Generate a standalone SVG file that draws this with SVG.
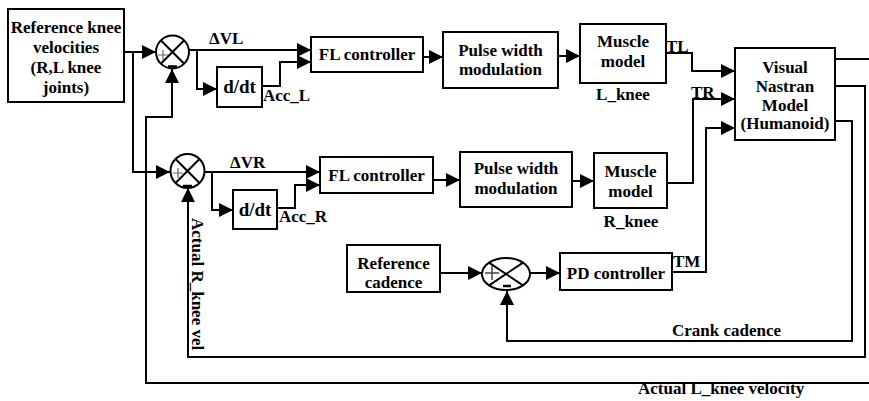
<svg xmlns="http://www.w3.org/2000/svg" width="869" height="401" viewBox="0 0 869 401">
  <style>
    .box { fill: #fff; stroke: #000; stroke-width: 2; }
    .sum { fill: #fff; stroke: #000; stroke-width: 2; }
    .cross { stroke: #000; stroke-width: 2; fill: none; }
    .plus { stroke: #666; stroke-width: 1.2; fill: none; }
    .minus { stroke: #000; stroke-width: 2.5; fill: none; }
    .wire { fill: none; stroke: #000; stroke-width: 2; }
    .arr { marker-end: url(#head); }
    text { font-family: "Liberation Serif", "Times New Roman", serif; font-weight: bold; font-size: 17px; fill: #000; }
    .c { text-anchor: middle; }
    .big { font-size: 19px; }
  </style>
  <defs>
    <marker id="head" markerUnits="userSpaceOnUse" markerWidth="14" markerHeight="14" viewBox="0 0 14 14" refX="14" refY="7" orient="auto">
      <path d="M0,0 L14,7 L0,14 Z" fill="#000"/>
    </marker>
  </defs>

  <!-- connectors -->
  <g id="connectors">
    <path class="wire arr" d="M124,52 H156"/>
    <path class="wire arr" d="M133,52 V172 H170"/>
    <path class="wire arr" d="M869,383 H146 V117 H172 V69"/>
    <path class="wire arr" d="M189,50 H311"/>
    <path class="wire arr" d="M197,50 V89 H217"/>
    <path class="wire arr" d="M262,86 H280 V62 H311"/>
    <path class="wire arr" d="M423,57 H443"/>
    <path class="wire arr" d="M558,56 H580"/>
    <path class="wire arr" d="M666,53 H692 V71 H735"/>
    <path class="wire arr" d="M205,172 H320"/>
    <path class="wire arr" d="M212,172 V210 H233"/>
    <path class="wire arr" d="M277,208 H295 V185 H320"/>
    <path class="wire arr" d="M433,180 H460"/>
    <path class="wire arr" d="M572,181 H594"/>
    <path class="wire arr" d="M667,183 H693 V99 H735"/>
    <path class="wire" d="M835,59 H869"/>
    <path class="wire arr" d="M835,86 H865 V357 H188 V188"/>
    <path class="wire arr" d="M835,121 H852 V341 H507 V291"/>
    <path class="wire arr" d="M440,273 H482"/>
    <path class="wire arr" d="M530,273 H560"/>
    <path class="wire arr" d="M672,272 H706 V128 H735"/>
  </g>

  <!-- reference knee velocities -->
  <g id="ref-knee">
    <rect class="box" x="8" y="9" width="116" height="93"/>
    <text class="c" x="66" y="33">Reference knee</text>
    <text class="c" x="66" y="53">velocities</text>
    <text class="c" x="66" y="73">(R,L knee</text>
    <text class="c" x="66" y="93">joints)</text>
  </g>

  <!-- summing junction, left knee -->
  <g id="sum-left">
    <circle class="sum" cx="172.5" cy="52" r="16.5"/>
    <path class="cross" d="M160.8,40.3 L184.2,63.7 M184.2,40.3 L160.8,63.7"/>
    <path class="plus" d="M158,55 H168 M163,50 V60"/>
    <path class="minus" d="M168,66.5 H177"/>
  </g>

  <!-- summing junction, right knee -->
  <g id="sum-right">
    <circle class="sum" cx="187.5" cy="171" r="17"/>
    <path class="cross" d="M175.5,159 L199.5,183 M199.5,159 L175.5,183"/>
    <path class="plus" d="M173,173 H183 M178,168 V178"/>
    <path class="minus" d="M183,186 H192"/>
  </g>

  <!-- summing junction, cadence -->
  <g id="sum-cadence">
    <ellipse class="sum" cx="506" cy="274" rx="24" ry="16"/>
    <path class="cross" d="M489,262.7 L523,285.3 M523,262.7 L489,285.3"/>
    <path d="M485,273 H499 M492,266 V280" stroke="#444" stroke-width="1.5" fill="none"/>
    <path class="minus" d="M503,286 H511"/>
  </g>

  <g id="ddt-left">
    <rect class="box" x="217" y="67" width="45" height="40"/>
    <text class="c big" x="239.5" y="93">d/dt</text>
  </g>

  <g id="ddt-right">
    <rect class="box" x="233" y="190" width="44" height="39"/>
    <text class="c big" x="255" y="216">d/dt</text>
  </g>

  <g id="fl-left">
    <rect class="box" x="311" y="37" width="112" height="35"/>
    <text class="c" x="367" y="60">FL controller</text>
  </g>

  <g id="fl-right">
    <rect class="box" x="320" y="157" width="113" height="36"/>
    <text class="c" x="376.5" y="181">FL controller</text>
  </g>

  <g id="pwm-left">
    <rect class="box" x="443" y="32" width="115" height="56"/>
    <text class="c" x="500.5" y="56">Pulse width</text>
    <text class="c" x="500.5" y="75">modulation</text>
  </g>

  <g id="pwm-right">
    <rect class="box" x="460" y="152" width="112" height="55"/>
    <text class="c" x="516" y="174">Pulse width</text>
    <text class="c" x="516" y="194">modulation</text>
  </g>

  <g id="muscle-left">
    <rect class="box" x="580" y="24" width="86" height="59"/>
    <text class="c" x="623" y="47">Muscle</text>
    <text class="c" x="623" y="67">model</text>
  </g>

  <g id="muscle-right">
    <rect class="box" x="594" y="153" width="73" height="55"/>
    <text class="c" x="630.5" y="177">Muscle</text>
    <text class="c" x="630.5" y="197">model</text>
  </g>

  <g id="nastran">
    <rect class="box" x="735" y="48" width="100" height="92"/>
    <text class="c" x="785" y="73">Visual</text>
    <text class="c" x="785" y="92">Nastran</text>
    <text class="c" x="785" y="111">Model</text>
    <text class="c" x="785" y="129">(Humanoid)</text>
  </g>

  <g id="ref-cadence">
    <rect class="box" x="347" y="245" width="93" height="47"/>
    <text class="c" x="393.5" y="269">Reference</text>
    <text class="c" x="393.5" y="288">cadence</text>
  </g>

  <g id="pd">
    <rect class="box" x="560" y="253" width="112" height="37"/>
    <text class="c" x="616" y="279">PD controller</text>
  </g>

  <!-- signal labels -->
  <g id="labels">
    <text x="209" y="44">ΔVL</text>
    <text x="263" y="101">Acc_L</text>
    <text x="666" y="52">TL</text>
    <text class="c" x="623" y="100">L_knee</text>
    <text x="691" y="98">TR</text>
    <text x="230" y="168">ΔVR</text>
    <text x="279" y="222">Acc_R</text>
    <text class="c" x="631" y="227">R_knee</text>
    <text x="673" y="267">TM</text>
    <text x="672" y="336">Crank cadence</text>
    <text x="638" y="394">Actual L_knee velocity</text>
    <text transform="translate(192,218) rotate(90)">Actual R_knee vel</text>
  </g>
</svg>
